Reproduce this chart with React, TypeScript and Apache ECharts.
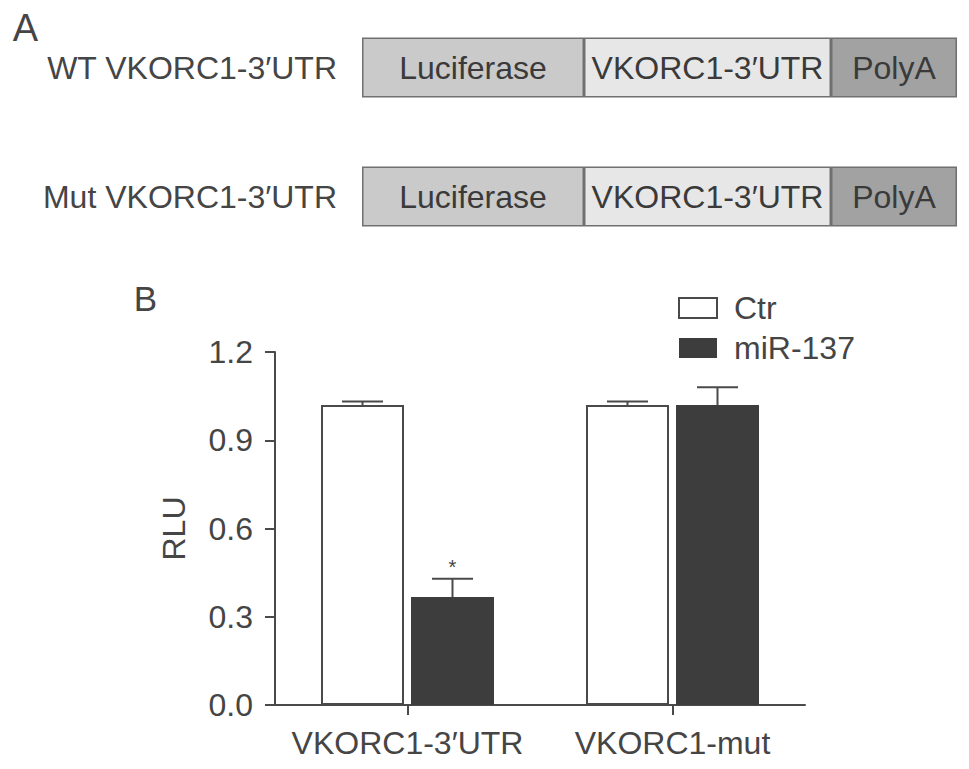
import React, { useEffect, useRef } from "react";
import * as echarts from "echarts";

// ---- Panel A: construct schematic ----
const constructs = ["WT VKORC1-3′UTR", "Mut VKORC1-3′UTR"];
const segmentNames = ["Luciferase", "VKORC1-3′UTR", "PolyA"];
const segmentLengths = [222, 247, 126];
const segmentColors = ["#cacaca", "#e7e7e7", "#a2a2a2"];

// ---- Panel B: luciferase assay ----
const categories = ["VKORC1-3′UTR", "VKORC1-mut"];
const seriesNames = ["Ctr", "miR-137"];
const ctrValues = [1.02, 1.02];
const ctrErrors = [0.012, 0.012];
const mirValues = [0.367, 1.02];
const mirErrors = [0.062, 0.06];
const significance = ["*", ""];
const yMin = 0;
const yMax = 1.2;
const yInterval = 0.3;

const FONT = "'Liberation Sans', Arial, Helvetica, sans-serif";
const TEXT = "#454545";
const AXIS = "#4a4a4a";
const BAR_W = 83;
const BAR_GAP = 7;

function errorSeries(values: number[], errors: number[], offset: number, sig: string[] | null) {
  return {
    type: "custom",
    xAxisIndex: 0,
    yAxisIndex: 0,
    z: 5,
    silent: true,
    data: values.map((v, i) => [i, v, errors[i]]),
    encode: { x: 0, y: 1 },
    renderItem: (params: any, api: any) => {
      const idx = api.value(0);
      const v = api.value(1);
      const e = api.value(2);
      const s = sig ? sig[idx] : "";
      const base = api.coord([idx, v]);
      const top = api.coord([idx, v + e]);
      const cx = base[0] + offset;
      const half = 20.5;
      const style = { stroke: AXIS, lineWidth: 2 };
      const children: any[] = [
        { type: "line", shape: { x1: cx, y1: base[1], x2: cx, y2: top[1] }, style },
        { type: "line", shape: { x1: cx - half, y1: top[1], x2: cx + half, y2: top[1] }, style },
      ];
      if (s) {
        children.push({
          type: "text",
          x: cx,
          y: top[1] - 2,
          style: { text: s, fontSize: 20, fontFamily: FONT, fill: TEXT, align: "center", verticalAlign: "bottom" },
        });
      }
      return { type: "group", children };
    },
  };
}

export default function App() {
  const ref = useRef<HTMLDivElement>(null);

  useEffect(() => {
    if (!ref.current) return;
    const chart = echarts.init(ref.current, null, { renderer: "svg" });
    const offset = (BAR_W + BAR_GAP) / 2;

    const option: any = {
      animation: false,
      backgroundColor: "#ffffff",
      textStyle: { fontFamily: FONT },
      graphic: [
        {
          type: "text",
          x: 25.5,
          y: 28,
          style: { text: "A", fontSize: 38, fontFamily: FONT, fill: TEXT, align: "center", verticalAlign: "middle" },
        },
        {
          type: "text",
          x: 145.5,
          y: 298,
          style: { text: "B", fontSize: 35, fontFamily: FONT, fill: TEXT, align: "center", verticalAlign: "middle" },
        },
      ],
      legend: {
        data: seriesNames,
        orient: "vertical",
        left: 673,
        top: 287,
        icon: "rect",
        itemWidth: 38,
        itemHeight: 20,
        itemGap: 8,
        textStyle: { fontSize: 32, color: TEXT, fontFamily: FONT, lineHeight: 32, padding: [0, 0, 0, 12] },
      },
      grid: [
        { left: 275, top: 352, width: 530, height: 353 },
        { left: 362, top: 3, width: 595, height: 258 },
      ],
      xAxis: [
        {
          type: "category",
          gridIndex: 0,
          data: categories,
          axisLine: { show: true, lineStyle: { color: AXIS, width: 2 } },
          axisTick: { show: true, alignWithLabel: true, length: 10, lineStyle: { color: AXIS, width: 2 } },
          axisLabel: { interval: 0, hideOverlap: false, fontSize: 32, color: TEXT, margin: 22, fontFamily: FONT },
        },
        {
          type: "value",
          gridIndex: 1,
          min: 0,
          max: segmentLengths.reduce((a, b) => a + b, 0),
          show: false,
        },
      ],
      yAxis: [
        {
          type: "value",
          gridIndex: 0,
          min: yMin,
          max: yMax,
          interval: yInterval,
          name: "RLU",
          nameLocation: "middle",
          nameGap: 85,
          nameTextStyle: { fontSize: 32, color: TEXT, fontFamily: FONT },
          axisLine: { show: true, lineStyle: { color: AXIS, width: 2 } },
          axisTick: { show: true, length: 10, lineStyle: { color: AXIS, width: 2 } },
          splitLine: { show: false },
          axisLabel: {
            fontSize: 32,
            color: TEXT,
            margin: 22,
            fontFamily: FONT,
            formatter: (v: number) => v.toFixed(1),
          },
        },
        {
          type: "category",
          gridIndex: 1,
          data: constructs,
          inverse: true,
          axisLine: { show: false },
          axisTick: { show: false },
          axisLabel: { interval: 0, fontSize: 32, color: TEXT, margin: 25, fontFamily: FONT },
        },
      ],
      series: [
        {
          name: seriesNames[0],
          type: "bar",
          xAxisIndex: 0,
          yAxisIndex: 0,
          data: ctrValues,
          barWidth: BAR_W,
          barGap: `${(BAR_GAP / BAR_W) * 100}%`,
          itemStyle: { color: "#ffffff", borderColor: AXIS, borderWidth: 2 },
        },
        {
          name: seriesNames[1],
          type: "bar",
          xAxisIndex: 0,
          yAxisIndex: 0,
          data: mirValues,
          barWidth: BAR_W,
          barGap: `${(BAR_GAP / BAR_W) * 100}%`,
          itemStyle: { color: "#3d3d3d", borderColor: "#3d3d3d", borderWidth: 0 },
        },
        errorSeries(ctrValues, ctrErrors, -offset, null),
        errorSeries(mirValues, mirErrors, offset, significance),
        ...segmentNames.map((name, i) => ({
          name,
          type: "bar",
          xAxisIndex: 1,
          yAxisIndex: 1,
          stack: "construct",
          barWidth: 60,
          data: constructs.map(() => segmentLengths[i]),
          itemStyle: { color: segmentColors[i], borderColor: "#707070", borderWidth: 1.5 },
          label: {
            show: true,
            position: "inside",
            formatter: "{a}",
            fontSize: 32,
            color: "#3a3a3a",
            fontFamily: FONT,
          },
        })),
      ],
    };

    chart.setOption(option);
    return () => chart.dispose();
  }, []);

  return (
    <div
      ref={ref}
      style={{ position: "absolute", left: 0, top: 0, width: 969, height: 769, background: "#fff" }}
    />
  );
}
